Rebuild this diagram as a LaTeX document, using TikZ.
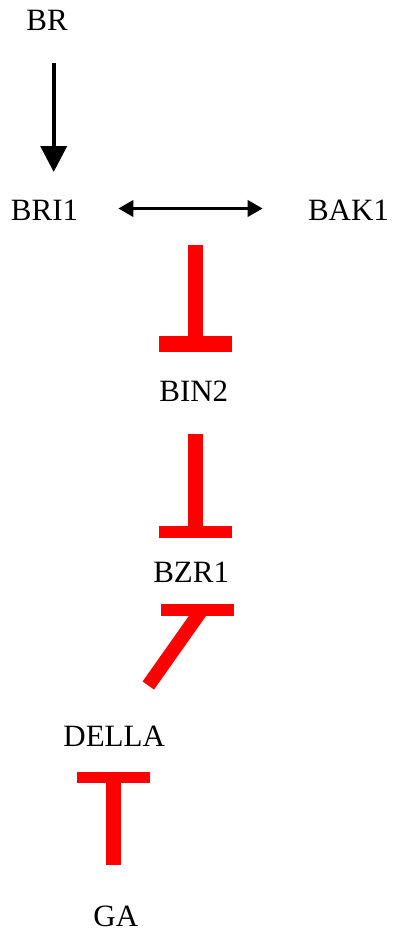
\documentclass[tikz,border=0pt]{standalone}
\usepackage{fontspec}
\setmainfont{Liberation Serif}
\usetikzlibrary{arrows.meta}
\begin{document}
\begin{tikzpicture}[x=1pt,y=-1pt,
  lbl/.style={inner sep=0pt,anchor=base,font=\fontsize{31}{31}\selectfont},
  act/.style={line width=4pt,-{Triangle[width=26pt,length=26pt]}},
  bind/.style={line width=3.6pt,{Triangle[width=16pt,length=15pt]}-{Triangle[width=16pt,length=15pt]}},
  stem/.style={draw=red,line width=14.4pt,line cap=butt},
  tbar/.style={draw=red,line width=#1,line cap=butt},
  tbar/.default=11.7pt]
\useasboundingbox (0,0) rectangle (392,932);
% nodes
\node[lbl] (br) at (47,30) {BR};
\node[lbl] (bri1) at (44.5,220) {BRI1};
\node[lbl] (bak1) at (348.5,220) {BAK1};
\node[lbl] (bin2) at (193.8,401.7) {BIN2};
\node[lbl] (bzr1) at (191.2,582.7) {BZR1};
\node[lbl] (della) at (114.2,746.7) {DELLA};
\node[lbl] (ga) at (115.8,926) {GA};
% connector end points
\coordinate (brS) at (53.7,63);
\coordinate (brE) at (53.7,172);
\coordinate (bkL) at (118.3,208.5);
\coordinate (bkR) at (262.7,208.5);
\coordinate (t1s) at (195.5,245);
\coordinate (t1e) at (195.5,344.2);
\coordinate (t1a) at (159,344.2);
\coordinate (t1b) at (232.3,344.2);
\coordinate (t2s) at (195.5,434);
\coordinate (t2e) at (195.5,531.9);
\coordinate (t2a) at (159,531.9);
\coordinate (t2b) at (232.3,531.9);
\coordinate (t3s) at (148.3,685.5);
\coordinate (t3e) at (201.5,610.2);
\coordinate (t3a) at (161,610.2);
\coordinate (t3b) at (234.3,610.2);
\coordinate (t4s) at (113.3,865);
\coordinate (t4e) at (113.3,777.5);
\coordinate (t4a) at (76.7,777.5);
\coordinate (t4b) at (150,777.5);
% connectors
\draw[act] (brS) -- (brE);
\draw[bind] (bkL) -- (bkR);
\draw[stem] (t1s) -- (t1e);
\draw[tbar=16.3pt] (t1a) -- (t1b);
\draw[stem] (t2s) -- (t2e);
\draw[tbar] (t2a) -- (t2b);
\draw[stem,line width=14pt] (t3s) -- (t3e);
\draw[tbar] (t3a) -- (t3b);
\draw[stem,line width=14.7pt] (t4s) -- (t4e);
\draw[tbar] (t4a) -- (t4b);
\end{tikzpicture}
\end{document}
